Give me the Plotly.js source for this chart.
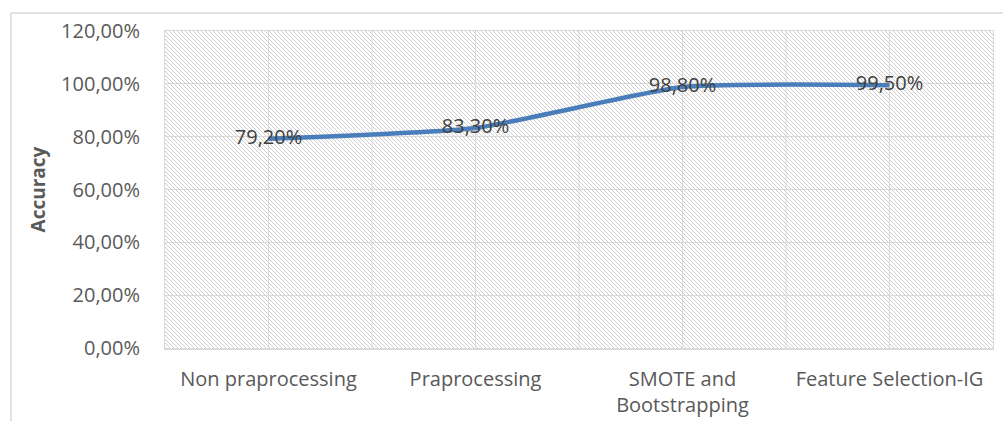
<!DOCTYPE html>
<html>
<head>
<meta charset="utf-8">
<script src="https://cdn.plot.ly/plotly-3.0.1.min.js"></script>
<style>html,body{margin:0;padding:0;background:#fff;}#chart{width:1003px;height:421px;}</style>
</head>
<body>
<div id="chart"></div>
<script>
const categories = ["Non praprocessing", "Praprocessing", "SMOTE and<br>Bootstrapping", "Feature Selection-IG"];
const accuracy = [0.792, 0.833, 0.988, 0.995];
const yTickValues = [0, 0.2, 0.4, 0.6, 0.8, 1.0, 1.2];

const hatch = 'data:image/svg+xml;utf8,' + encodeURIComponent(
  '<svg xmlns="http://www.w3.org/2000/svg" width="828" height="317" viewBox="0 0 828 317" preserveAspectRatio="none">' +
  '<defs><pattern id="p" patternUnits="userSpaceOnUse" width="4" height="4">' +
  '<path d="M-1,-1 L5,5 M-1,3 L1,5 M3,-1 L5,1" stroke="#c8c8c8" stroke-width="0.9"/></pattern></defs>' +
  '<rect width="828" height="317" fill="#fff"/><rect width="828" height="317" fill="url(#p)"/></svg>');

const gridColor = '#d9d9d9';
const boundaryShapes = [0.5, 1.5, 2.5].map(v => ({
  type: 'line', xref: 'x', yref: 'paper', x0: v, x1: v, y0: 0, y1: 1,
  line: {color: gridColor, width: 1}, layer: 'below'
}));

const trace = {
  x: categories,
  y: accuracy,
  type: 'scatter',
  mode: 'lines+text',
  line: {color: '#4a7ebb', width: 4.5, shape: 'spline', smoothing: 0.5},
  text: accuracy,
  texttemplate: '%{y:.2%}',
  textposition: 'middle center',
  textfont: {family: 'Open Sans, sans-serif', size: 20, color: '#404040'},
  hoverinfo: 'skip',
  cliponaxis: false
};

const layout = {
  width: 1003, height: 421,
  margin: {l: 165, r: 10, t: 31, b: 73},
  paper_bgcolor: '#fff',
  plot_bgcolor: 'rgba(0,0,0,0)',
  separators: ',.',
  showlegend: false,
  font: {family: 'Open Sans, sans-serif', color: '#595959', size: 20},
  xaxis: {
    type: 'category', range: [-0.5, 3.5],
    showgrid: true, gridcolor: gridColor, gridwidth: 1,
    showline: true, linecolor: gridColor, linewidth: 1.5, mirror: true,
    ticks: '', ticklabelstandoff: 12, tickfont: {size: 20, color: '#595959'},
    fixedrange: true
  },
  yaxis: {
    range: [0, 1.2], tickvals: yTickValues, tickformat: '.2%',
    showgrid: true, gridcolor: gridColor, gridwidth: 1,
    showline: true, linecolor: gridColor, linewidth: 1, mirror: true,
    zeroline: false, ticks: '', ticklabelstandoff: 20,
    tickfont: {size: 20, color: '#595959'},
    title: {text: '<b>Accuracy</b>', font: {size: 19, color: '#595959'}, standoff: 10},
    fixedrange: true
  },
  images: [{
    source: hatch, xref: 'paper', yref: 'paper', x: 0, y: 1, sizex: 1, sizey: 1,
    xanchor: 'left', yanchor: 'top', sizing: 'stretch', layer: 'below'
  }],
  shapes: boundaryShapes.concat([{
    type: 'rect', xref: 'paper', yref: 'paper',
    x0: -154/828, x1: 1.2, y0: -0.5, y1: (348-13)/317,
    line: {color: '#d9d9d9', width: 1.5}, fillcolor: 'rgba(0,0,0,0)', layer: 'below'
  }])
};

Plotly.newPlot('chart', [trace], layout, {displayModeBar: false, staticPlot: true});
</script>
</body>
</html>
